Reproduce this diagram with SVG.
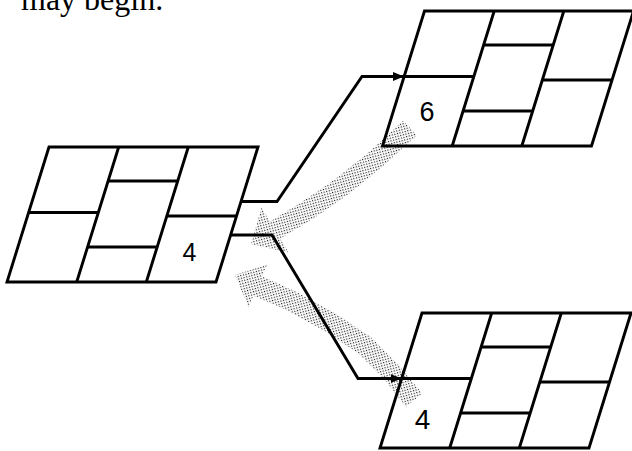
<svg xmlns="http://www.w3.org/2000/svg" width="632" height="451" viewBox="0 0 632 451">
  <style>
    .ln { fill: none; stroke: #000; stroke-width: 2.9; stroke-linejoin: miter; }
    .num { font-family: "Liberation Sans", Arial, sans-serif; fill: #000; text-anchor: middle; }
    .cap { font-family: "Liberation Serif", "Times New Roman", serif; font-size: 32px; fill: #000; }
    .stip { fill: url(#dots); stroke: none; }
  </style>
  <defs>
    <pattern id="dots" width="3.8" height="3.8" patternUnits="userSpaceOnUse" patternTransform="rotate(30)">
      <rect x="0" y="0" width="1.15" height="1.15" fill="#111"/>
      <rect x="1.9" y="1.9" width="1.15" height="1.15" fill="#111"/>
    </pattern>
    <marker id="arr" viewBox="0 0 10 8" refX="10" refY="4" markerWidth="11" markerHeight="9" markerUnits="userSpaceOnUse" orient="auto">
      <path d="M0,0 L10,4 L0,8 Z" fill="#000"/>
    </marker>
    <g id="grid" class="ln">
      <path d="M0,0 H209 L167,135 H-42 Z"/>
      <path d="M69.7,0 L27.7,135 M139.3,0 L97.3,135"/>
      <path d="M-20.4,65.5 H49.3 M59.1,34 H128.7 M38.6,100 H108.2 M117.8,69 H187.5"/>
    </g>
  </defs>

  <text class="cap" x="21" y="10">may begin.</text>

  <g id="connectors">
    <polygon class="stip" points="251,244 261.5,207.5 269.9,221.4 299.6,203.6 334,180 368.5,152.4 403.2,120.6 416.8,135.4 381.5,167.6 346,196 310.4,220.4 280.1,238.6 288.5,252.5"/>
    <polygon class="stip" points="235,275 267.5,264.5 261.8,276.3 293.7,290.6 334.5,313 370.5,336.8 398.5,365 422.3,393.5 405.8,406.8 384.2,379 358.3,353.2 324.5,331 285.3,309.5 253.5,295.8 248.5,307"/>
    <path class="ln" d="M241,201.5 H277 L362,76.5 H404" marker-end="url(#arr)"/>
    <path class="ln" d="M230.5,235 H272 L358,378.5 H401.6" marker-end="url(#arr)"/>
  </g>

  <g id="node-left">
    <use href="#grid" transform="translate(49,147)"/>
    <text class="num" x="189.5" y="261" font-size="25">4</text>
  </g>
  <g id="node-top-right">
    <use href="#grid" transform="translate(424.5,11)"/>
    <text class="num" x="427" y="121" font-size="27">6</text>
  </g>
  <g id="node-bottom-right">
    <use href="#grid" transform="translate(422,313)"/>
    <text class="num" x="422.5" y="428.5" font-size="28">4</text>
  </g>
</svg>
